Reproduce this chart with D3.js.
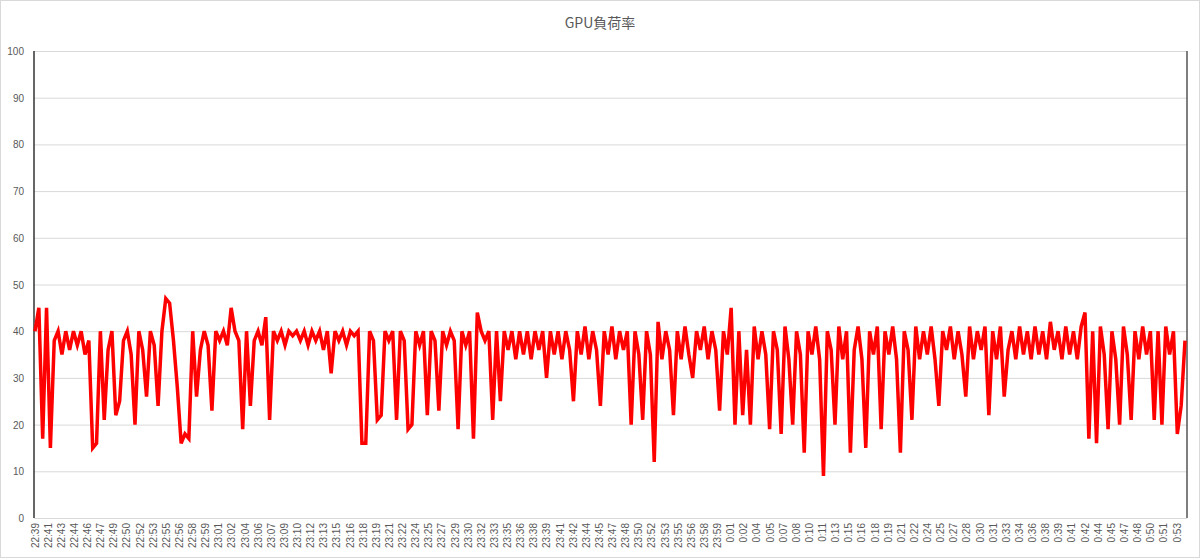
<!DOCTYPE html>
<html><head><meta charset="utf-8">
<script src="https://cdn.jsdelivr.net/npm/d3@7"></script>
<style>body{margin:0;background:#fff;font-family:"Noto Sans CJK JP","Noto Sans",sans-serif}</style>
</head><body><div id="chart"></div>
<script>
var W = 1200, H = 558;
var title = 'GPU負荷率';
var yTicks = [0, 10, 20, 30, 40, 50, 60, 70, 80, 90, 100];
var timeLabels = ['22:39','22:41','22:43','22:44','22:46','22:47','22:49','22:50','22:52','22:53','22:55','22:56','22:58','22:59',
  '23:01','23:02','23:04','23:06','23:07','23:09','23:10','23:12','23:13','23:15','23:16','23:18','23:19','23:21','23:22','23:24',
  '23:25','23:27','23:29','23:30','23:32','23:33','23:35','23:36','23:38','23:39','23:41','23:42','23:44','23:45','23:47','23:48',
  '23:50','23:52','23:53','23:55','23:56','23:58','23:59','0:01','0:02','0:04','0:05','0:07','0:08','0:10','0:11','0:13','0:15',
  '0:16','0:18','0:19','0:21','0:22','0:24','0:25','0:27','0:28','0:30','0:31','0:33','0:34','0:36','0:38','0:39','0:41','0:42',
  '0:44','0:45','0:47','0:48','0:50','0:51','0:53'];
// GPU load samples (%)
var gpuLoad = [
  40,45,17,45,15,38,40,35,40,36,40,37,40,35,38,15,16,40,21,36,
  40,22,25,38,40,35,20,40,36,26,40,37,24,40,47,46,38,28,16,18,
  17,40,26,36,40,37,23,40,38,40,37,45,40,38,19,40,24,38,40,37,
  43,21,40,38,40,37,40,39,40,38,40,37,40,38,40,36,40,31,40,38,
  40,37,40,39,40,16,16,40,38,21,22,40,38,40,21,40,38,19,20,40,
  37,40,22,40,38,23,40,37,40,38,19,40,37,40,17,44,40,38,40,21,
  40,25,40,36,40,34,40,35,40,34,40,36,40,30,40,35,40,34,40,36,
  25,40,35,41,34,40,36,24,40,35,41,34,40,36,40,20,40,35,21,40,
  35,12,42,34,40,36,22,40,34,41,35,30,40,36,41,34,40,36,23,40,
  35,45,20,40,22,36,20,41,34,40,35,19,40,36,18,41,34,20,40,35,
  14,40,35,41,34,9,40,36,20,41,34,40,14,36,41,34,15,40,35,41,
  19,40,35,41,34,14,40,36,21,41,34,40,35,41,34,24,40,36,41,34,
  40,35,26,41,34,40,36,41,22,40,34,41,26,36,40,34,41,35,40,34,
  41,35,40,34,42,36,40,34,41,35,40,34,41,44,17,40,16,41,35,19,
  40,34,20,41,35,21,40,34,41,35,40,21,40,20,41,35,40,18,24,38];

var plotLeft = 34, plotRight = 1187, plotTop = 51, plotBottom = 518;
var svg = d3.select('#chart').append('svg').attr('width', W).attr('height', H);
svg.append('rect').attr('x', 0.5).attr('y', 0.5).attr('width', W - 1).attr('height', H - 1)
  .attr('fill', '#fff').attr('stroke', '#d9d9d9');

var y = d3.scaleLinear().domain([0, 100]).range([plotBottom, plotTop]);
var x = d3.scaleLinear().domain([0, gpuLoad.length - 1]).range([plotLeft + 1, plotRight - 2]);
var xl = d3.scalePoint().domain(timeLabels).range([35, 1177]);

// gridlines + y labels
svg.append('g').selectAll('line').data(yTicks).join('line')
  .attr('x1', plotLeft).attr('x2', plotRight).attr('y1', d => y(d) + 0.5).attr('y2', d => y(d) + 0.5)
  .attr('stroke', '#d9d9d9');
svg.append('g').selectAll('text').data(yTicks).join('text')
  .attr('x', 24).attr('y', d => y(d) + 4).attr('text-anchor', 'end')
  .attr('font-size', 10).attr('fill', '#595959').attr('font-family', 'Liberation Sans, sans-serif')
  .text(d => d);

// x labels
svg.append('g').selectAll('text').data(timeLabels).join('text')
  .attr('transform', d => 'translate(' + (xl(d) + 3.5) + ',523) rotate(-90)')
  .attr('text-anchor', 'end').attr('font-size', 10).attr('fill', '#595959')
  .attr('font-family', 'Liberation Sans, sans-serif')
  .text(d => d);

// plot side borders
svg.append('line').attr('x1', plotLeft).attr('x2', plotLeft).attr('y1', plotTop).attr('y2', plotBottom).attr('stroke', '#333').attr('stroke-width', 1.5);
svg.append('line').attr('x1', plotRight).attr('x2', plotRight).attr('y1', plotTop).attr('y2', plotBottom).attr('stroke', '#555').attr('stroke-width', 1.5);

var line = d3.line().x((d, i) => x(i)).y(d => y(d));
svg.append('path').datum(gpuLoad).attr('d', line)
  .attr('fill', 'none').attr('stroke', '#ff0000').attr('stroke-width', 3.5).attr('stroke-linejoin', 'miter');

svg.append('text').attr('x', 600).attr('y', 28).attr('text-anchor', 'middle')
  .attr('font-size', 14).attr('fill', '#595959').text(title);
</script></body></html>
